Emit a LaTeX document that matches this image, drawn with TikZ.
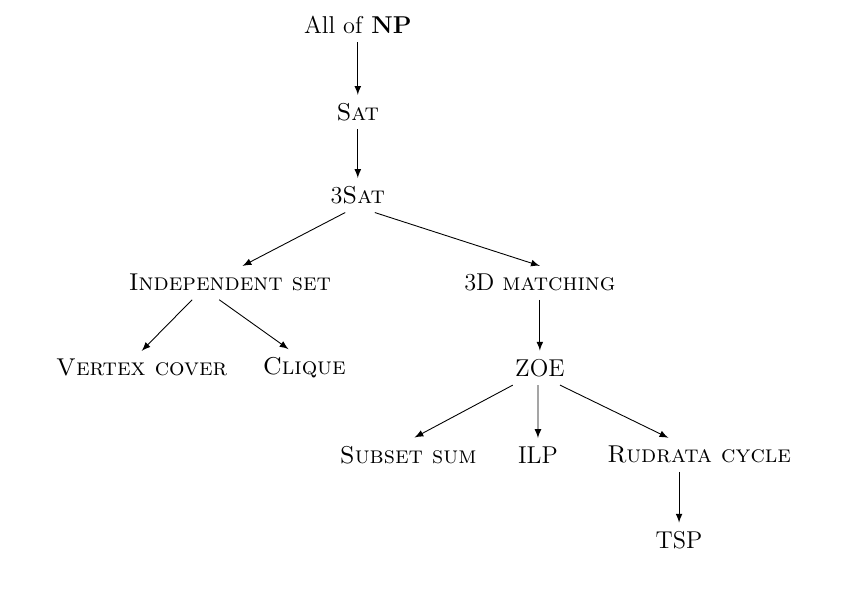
\documentclass[tikz,border=0pt]{standalone}
\begin{document}
\begin{tikzpicture}[every node/.style={inner sep=3.6pt,font=\fontsize{11}{13}\selectfont}]
        \useasboundingbox (0,0) rectangle (13.43,-9.73);
        % problems
            \node (np) at (5.68,-0.40) {All of \textbf{NP}};
            \node (sat) at (5.68,-1.78) {\textsc{Sat}};
            \node (sat3) at (5.68,-3.10) {3\textsc{Sat}};
            \node (indset) at (3.65,-4.49) {\textsc{Independent set}};
            \node (match3d) at (8.57,-4.49) {3D \textsc{matching}};
            \node (vcover) at (2.25,-5.84) {\textsc{Vertex cover}};
            \node (clique) at (4.83,-5.84) {\textsc{Clique}};
            \node (zoe) at (8.57,-5.84) {ZOE};
            \node (subsum) at (6.48,-7.22) {\textsc{Subset sum}};
            \node (ilp) at (8.54,-7.22) {ILP};
            \node (rudrata) at (11.10,-7.22) {\textsc{Rudrata cycle}};
            \node (tsp) at (10.78,-8.57) {TSP};
        % reductions
            \foreach \a/\sa/\b/\sb in {np/0/sat/0,sat/0/sat3/0,sat3/-0.2/indset/0.2,sat3/0.27/match3d/0,
                indset/-0.6/vcover/0,indset/-0.17/clique/-0.25,match3d/0/zoe/0,
                zoe/-0.43/subsum/0.1,zoe/-0.03/ilp/0,zoe/0.32/rudrata/-0.49,rudrata/-0.32/tsp/0}{
                \draw[->,>=latex] ([xshift=\sa cm]\a.south) -- ([xshift=\sb cm]\b.north);
            }
\end{tikzpicture}
\end{document}
